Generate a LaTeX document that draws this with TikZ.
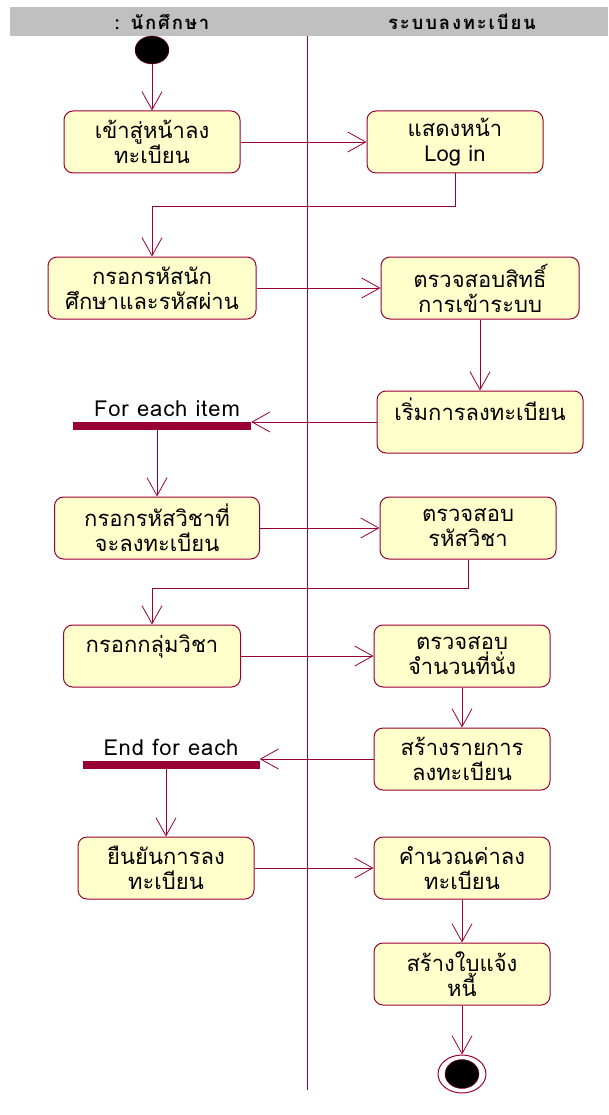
\documentclass[tikz,border=0pt]{standalone}
\usepackage{fontspec}
\setmainfont[Script=Thai]{Loma}
\newfontfamily\headfont[Script=Thai,LetterSpace=10]{Loma}
\newfontfamily\barfont[LetterSpace=4]{Loma}
\usetikzlibrary{arrows.meta,positioning,shapes.geometric}
\definecolor{umlred}{RGB}{153,0,51}
\definecolor{actfill}{RGB}{255,255,204}
\definecolor{lanegray}{RGB}{192,192,192}

\begin{document}
\begin{tikzpicture}[x=1pt, y=-1pt,
        >={Straight Barb[length=18pt,width=20pt]},  % pointes ouvertes
        activity/.style={draw=umlred, fill=actfill, rounded corners=9pt,
            line width=1pt, minimum height=62pt, align=center, inner sep=2pt,
            font=\fontsize{22}{25}\selectfont},
        flow/.style={->, draw=umlred, line width=0.8pt},
        syncbar/.style={fill=umlred, inner sep=0pt, minimum height=8pt},
        barlabel/.style={font=\barfont\fontsize{22}{24}\selectfont, inner sep=1pt},
        lanehead/.style={font=\headfont\bfseries\fontsize{18.5}{19}\selectfont}
    ]
    \useasboundingbox (0,0) rectangle (608,1115);

    % (1) Les deux couloirs
    \fill[lanegray] (10,7) rectangle (608,36);
    \node[lanehead] (lane1) at (162,22) {: นักศึกษา};
    \node[lanehead] (lane2) at (462,22) {ระบบลงทะเบียน};
    \draw[umlred, line width=0.8pt] (307,36) -- (307,1090);

    % (2) Etat initial et activités
    \node[ellipse, draw=umlred, fill=black, minimum width=34pt, minimum height=28pt, inner sep=0pt] (start) at (152,50) {};

    \node[activity, minimum width=176pt] (enter) at (152,142) {เข้าสู่หน้าลง\\ทะเบียน};
    \node[activity, minimum width=176pt] (login) at (455,142) {แสดงหน้า\\Log in};
    \node[activity, minimum width=208pt] (keyid) at (152,288) {กรอกรหัสนัก\\ศึกษาและรหัสผ่าน};
    \node[activity, minimum width=198pt] (auth) at (480,288) {ตรวจสอบสิทธิ์\\การเข้าระบบ};
    \node[activity, minimum width=206pt] (begin) at (480,422) {เริ่มการลงทะเบียน\\\mbox{}};

    % (3) Boucle "For each"
    \node[syncbar, minimum width=178pt] (fork) at (162,426) {};
    \node[barlabel, above=4pt of fork, xshift=5pt] (forklabel) {For each item};

    \node[activity, minimum width=205pt] (keycourse) at (157,528) {กรอกรหัสวิชาที่\\จะลงทะเบียน};
    \node[activity, minimum width=176pt] (checkcourse) at (468,528) {ตรวจสอบ\\รหัสวิชา};
    \node[activity, minimum width=177pt] (keygroup) at (152,656) {กรอกกลุ่มวิชา\\\mbox{}};
    \node[activity, minimum width=176pt] (checkseat) at (462,656) {ตรวจสอบ\\จำนวนที่นั่ง};
    \node[activity, minimum width=176pt] (makelist) at (462,759) {สร้างรายการ\\ลงทะเบียน};

    \node[syncbar, minimum width=177pt] (join) at (171,765) {};
    \node[barlabel, above=4pt of join] (joinlabel) {End for each};

    % (4) Fin du processus
    \node[activity, minimum width=176pt] (confirm) at (166,868) {ยืนยันการลง\\ทะเบียน};
    \node[activity, minimum width=176pt] (fee) at (462,868) {คำนวณค่าลง\\ทะเบียน};
    \node[activity, minimum width=176pt] (invoice) at (462,974) {สร้างใบแจ้ง\\หนี้};

    \node[ellipse, draw=umlred, fill=white, line width=1pt, minimum width=48pt, minimum height=38pt, inner sep=0pt] (final) at (462,1074) {};
    \node[ellipse, draw=umlred, fill=black, minimum width=34pt, minimum height=29pt, inner sep=0pt] (finalin) at (final) {};

    % (5) Transitions
    \draw[flow] (start) -- (enter);
    \draw[flow] (enter) -- (login);
    \draw[flow] (login.south) -- ++(0,33) -| (keyid.north);
    \draw[flow] (keyid) -- (auth);
    \draw[flow] (auth) -- (begin);
    \draw[flow] (begin.west) -- (begin.west -| fork.east);
    \draw[flow] (fork.south -| keycourse.north) -- (keycourse.north);
    \draw[flow] (keycourse) -- (checkcourse);
    \draw[flow] (checkcourse.south) -- ++(0,29) -| (keygroup.north);
    \draw[flow] (keygroup) -- (checkseat);
    \draw[flow] (checkseat) -- (makelist);
    \draw[flow] (makelist.west) -- (makelist.west -| join.east);
    \draw[flow] (join.south -| confirm.north) -- (confirm.north);
    \draw[flow] (confirm) -- (fee);
    \draw[flow] (fee) -- (invoice);
    \draw[flow] (invoice.south) -- (final.north);

\end{tikzpicture}
\end{document}
